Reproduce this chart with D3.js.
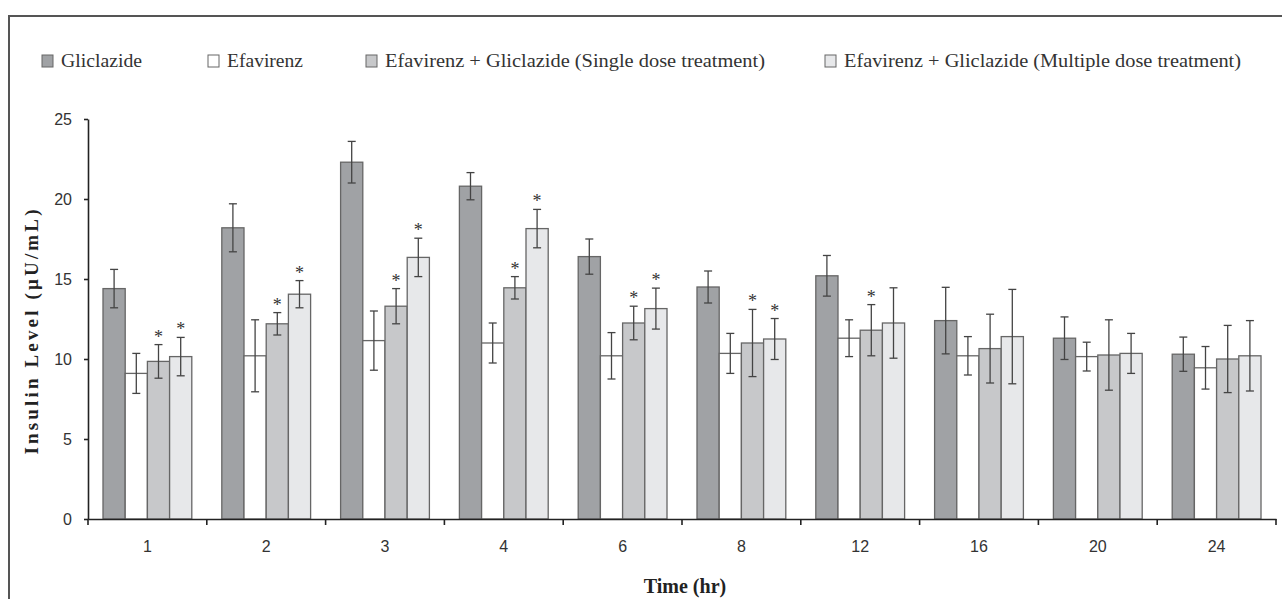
<!DOCTYPE html>
<html>
<head>
<meta charset="utf-8">
<script src="https://cdn.jsdelivr.net/npm/d3@7"></script>
<style>
  body { margin: 0; background: #fff; }
  svg { display: block; }
  .tick text { font-family: "Liberation Sans", Arial, sans-serif; font-size: 16px; fill: #333; }
</style>
</head>
<body>
<svg id="chart" width="1282" height="599"></svg>
<script>
// time points (hr)
var times = ['1', '2', '3', '4', '6', '8', '12', '16', '20', '24'];
var seriesNames = ['Gliclazide', 'Efavirenz',
    'Efavirenz + Gliclazide (Single dose treatment)',
    'Efavirenz + Gliclazide (Multiple dose treatment)'];

// insulin level, µU/mL
var gliclazide   = [14.4, 18.2, 22.3, 20.8, 16.4, 14.5, 15.2, 12.4, 11.3, 10.3];
var gliclazideSE = [1.2, 1.5, 1.3, 0.85, 1.1, 1.0, 1.27, 2.08, 1.33, 1.07];
var efavirenz    = [9.1, 10.2, 11.15, 11.0, 10.2, 10.35, 11.3, 10.2, 10.15, 9.45];
var efavirenzSE  = [1.25, 2.25, 1.85, 1.25, 1.45, 1.25, 1.15, 1.2, 0.9, 1.33];
var single       = [9.85, 12.2, 13.3, 14.45, 12.25, 11.0, 11.8, 10.65, 10.25, 10.0];
var singleSE     = [1.05, 0.7, 1.1, 0.7, 1.05, 2.1, 1.6, 2.15, 2.2, 2.1];
var multiple     = [10.15, 14.05, 16.35, 18.15, 13.15, 11.25, 12.25, 11.4, 10.35, 10.2];
var multipleSE   = [1.2, 0.85, 1.2, 1.2, 1.28, 1.28, 2.2, 2.95, 1.25, 2.2];

// significance marks (*)
var singleStar   = [1, 1, 1, 1, 1, 1, 1, 0, 0, 0];
var multipleStar = [1, 1, 1, 1, 1, 1, 0, 0, 0, 0];

var yTicks = [0, 5, 10, 15, 20, 25];

var colors = ['#a0a2a5', '#ffffff', '#c7c8ca', '#e7e8ea'];
var values = [gliclazide, efavirenz, single, multiple];
var errors = [gliclazideSE, efavirenzSE, singleSE, multipleSE];
var stars = [null, null, singleStar, multipleStar];

var svg = d3.select('#chart');

// outer frame
svg.append('rect')
    .attr('x', 9).attr('y', 16)
    .attr('width', 1300).attr('height', 620)
    .style('fill', 'none')
    .style('stroke', '#555')
    .style('stroke-width', 2);

var x = d3.scaleBand().domain(times).range([88, 1276]);
var xInner = d3.scaleBand().domain(d3.range(4)).range([15, x.bandwidth() - 15]);
var y = d3.scaleLinear().domain([0, 25]).range([519, 119]);

// bars
var rows = [];
times.forEach(function (t, i) {
    for (var s = 0; s < 4; s++) {
        rows.push({t: t, s: s, v: values[s][i], e: errors[s][i], star: stars[s] ? stars[s][i] : 0});
    }
});

var g = svg.append('g');

g.selectAll('rect.bar')
    .data(rows)
    .enter()
    .append('rect')
    .attr('class', 'bar')
    .attr('x', d => x(d.t) + xInner(d.s))
    .attr('y', d => y(d.v))
    .attr('width', xInner.bandwidth())
    .attr('height', d => y(0) - y(d.v))
    .style('fill', d => colors[d.s])
    .style('stroke', '#666')
    .style('stroke-width', 1.3);

// error bars
var cx = d => x(d.t) + xInner(d.s) + xInner.bandwidth() / 2;
var err = g.selectAll('g.err')
    .data(rows)
    .enter()
    .append('g')
    .attr('class', 'err')
    .style('stroke', '#444')
    .style('stroke-width', 1.3);

err.append('line')
    .attr('x1', cx).attr('x2', cx)
    .attr('y1', d => y(d.v + d.e)).attr('y2', d => y(d.v - d.e));
err.append('line')
    .attr('x1', d => cx(d) - 4).attr('x2', d => cx(d) + 4)
    .attr('y1', d => y(d.v + d.e)).attr('y2', d => y(d.v + d.e));
err.append('line')
    .attr('x1', d => cx(d) - 4).attr('x2', d => cx(d) + 4)
    .attr('y1', d => y(d.v - d.e)).attr('y2', d => y(d.v - d.e));

// asterisks
g.selectAll('text.star')
    .data(rows.filter(d => d.star))
    .enter()
    .append('text')
    .attr('class', 'star')
    .attr('x', cx)
    .attr('y', d => y(d.v + d.e) - 2)
    .attr('text-anchor', 'middle')
    .style('font-family', '"Liberation Serif", serif')
    .style('font-size', '18px')
    .style('fill', '#333')
    .text('*');

// y axis
var yAxis = svg.append('g')
    .attr('transform', 'translate(88,0)')
    .call(d3.axisLeft(y).tickValues(yTicks).tickSize(4).tickSizeOuter(0).tickPadding(12));
yAxis.select('.domain').style('stroke', '#222').style('stroke-width', 1.6);
yAxis.selectAll('.tick line').style('stroke', '#222').style('stroke-width', 1.6);

// x axis: labels centred, ticks between groups
var xAxis = svg.append('g')
    .attr('transform', 'translate(0,519)')
    .call(d3.axisBottom(x).tickSize(0).tickSizeOuter(0).tickPadding(22));
xAxis.select('.domain').style('stroke', '#222').style('stroke-width', 1.6);

var bounds = times.map(t => x(t)).concat([x.range()[1]]);
xAxis.selectAll('line.sep')
    .data(bounds)
    .enter()
    .append('line')
    .attr('class', 'sep')
    .attr('x1', d => d).attr('x2', d => d)
    .attr('y1', 0).attr('y2', 6)
    .style('stroke', '#222')
    .style('stroke-width', 1.6);

// axis titles
svg.append('text')
    .attr('transform', 'translate(38,332) rotate(-90)')
    .attr('text-anchor', 'middle')
    .attr('textLength', 245)
    .attr('lengthAdjust', 'spacing')
    .style('font-family', '"Liberation Serif", serif')
    .style('font-weight', 'bold')
    .style('font-size', '19px')
    .style('fill', '#222')
    .text('Insulin Level (µU/mL)');

svg.append('text')
    .attr('x', 685).attr('y', 593)
    .attr('text-anchor', 'middle')
    .style('font-family', '"Liberation Serif", serif')
    .style('font-weight', 'bold')
    .style('font-size', '20px')
    .style('fill', '#222')
    .text('Time (hr)');

// legend
var legendX = [42, 208, 366, 825];
var legendW = [81, 76, 380, 397];
var legend = svg.selectAll('g.legend')
    .data(seriesNames)
    .enter()
    .append('g')
    .attr('class', 'legend')
    .attr('transform', (d, i) => 'translate(' + legendX[i] + ',55)');

legend.append('rect')
    .attr('width', 11).attr('height', 12)
    .style('fill', (d, i) => colors[i])
    .style('stroke', '#666')
    .style('stroke-width', 1);

legend.append('text')
    .attr('x', 19)
    .attr('y', 12)
    .attr('textLength', (d, i) => legendW[i])
    .attr('lengthAdjust', 'spacingAndGlyphs')
    .style('font-family', '"Liberation Serif", serif')
    .style('font-size', '19px')
    .style('fill', '#333')
    .text(d => d);
</script>
</body>
</html>
